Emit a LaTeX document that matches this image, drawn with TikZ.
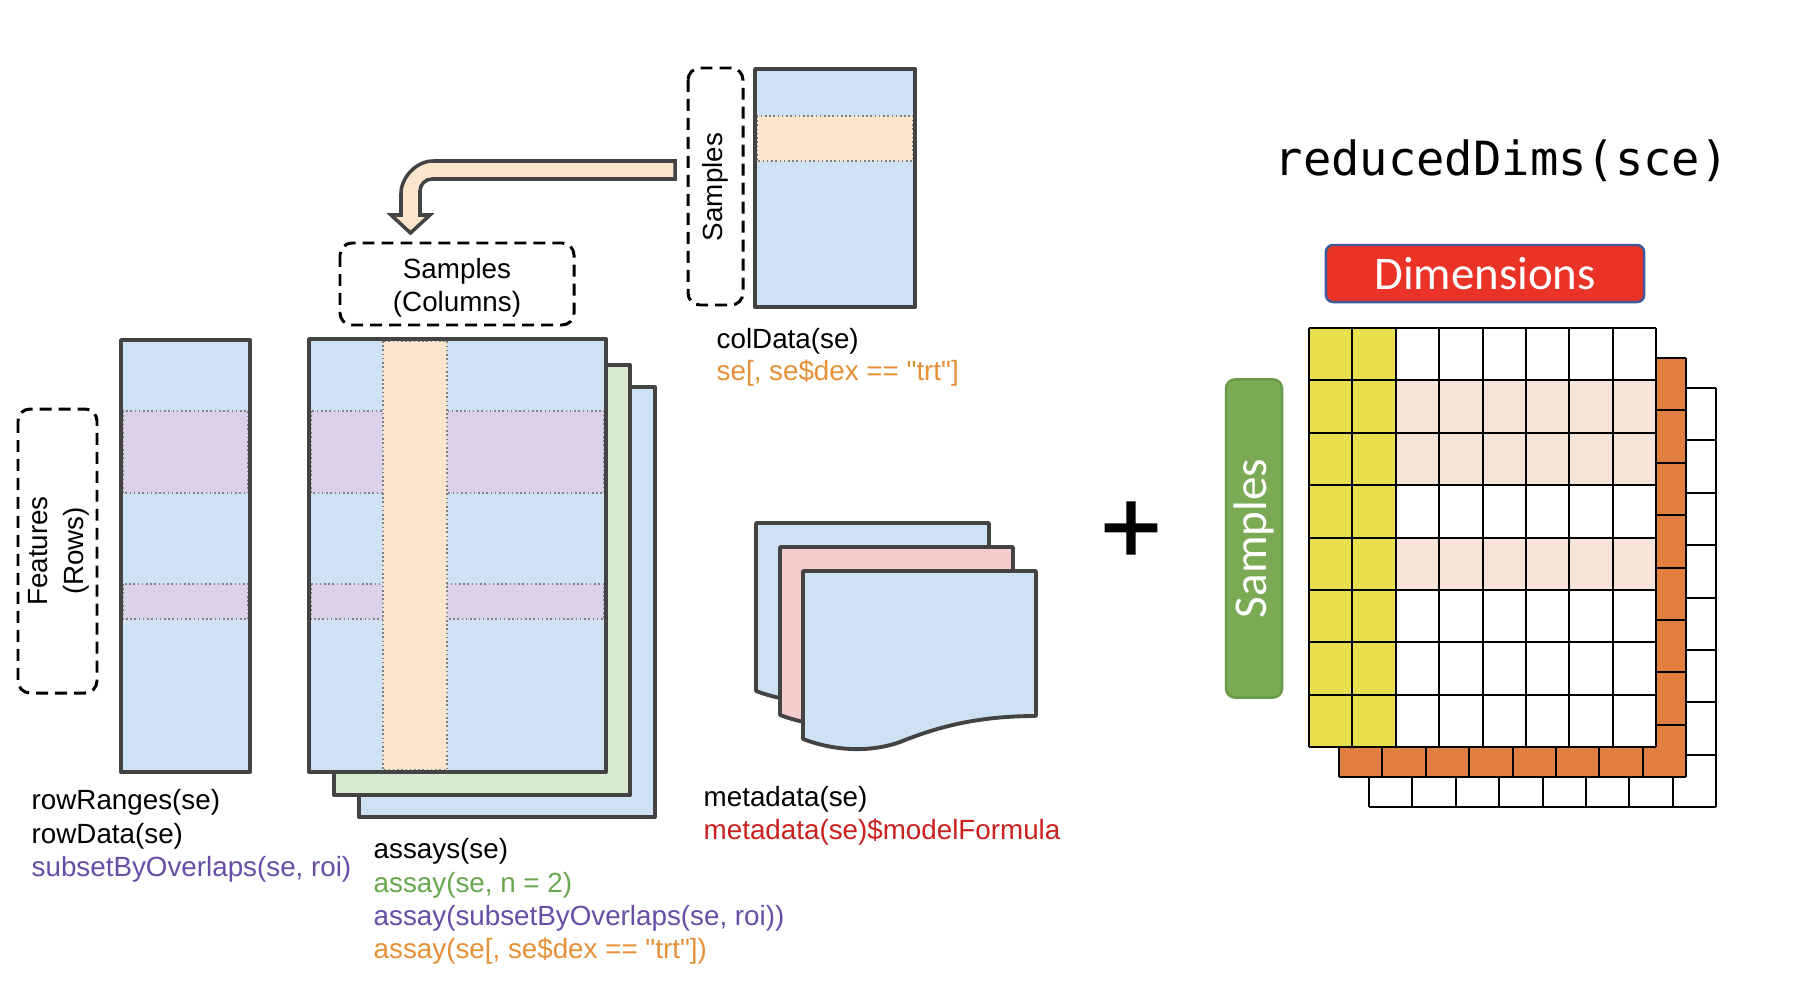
\documentclass[tikz,border=0pt]{standalone}
\usepackage{fontspec}
\setmainfont{Liberation Sans}[Ligatures=TeXOff]
\newfontfamily\calfont{Carlito}
\newfontfamily\codefont{DejaVu Sans Mono}
\newfontfamily\plusfont{Liberation Sans}[FakeBold=1.5]
\definecolor{edge}{HTML}{434343}
\definecolor{dotc}{HTML}{808080}
\definecolor{blueF}{HTML}{CFE2F3}
\definecolor{purpleF}{HTML}{D9D2E9}
\definecolor{orangeF}{HTML}{FCE5CD}
\definecolor{greenF}{HTML}{D9EAD3}
\definecolor{pinkF}{HTML}{F4CCCC}
\definecolor{txtPurple}{HTML}{674EA7}
\definecolor{txtGreen}{HTML}{6AA84F}
\definecolor{txtOrange}{HTML}{E69138}
\definecolor{txtRed}{HTML}{C9211E}
\definecolor{cellYellow}{HTML}{E8DE4E}
\definecolor{cellOrange}{HTML}{E07F40}
\definecolor{cellPeach}{HTML}{F7E4D8}
\definecolor{dimRed}{HTML}{EA3327}
\definecolor{dimBlue}{HTML}{3F5A9B}
\definecolor{sampGreen}{HTML}{7BAA55}
\definecolor{sampEdge}{HTML}{6A9A48}
\begin{document}
\begin{tikzpicture}[x=0.01cm,y=-0.01cm,
  lbl/.style={inner sep=0pt, font=\fontsize{7.9pt}{9.5pt}\selectfont, anchor=base west},
  panel/.style={draw=edge, line width=1.1pt, line join=round},
  band/.style={draw=dotc, line width=0.45pt, dash pattern=on 0.45pt off 0.75pt},
  dashbox/.style={draw=black, line width=0.85pt, dash pattern=on 3.4pt off 2pt, rounded corners=0.12cm},
  gl/.style={draw=black, line width=0.6pt},
  sheet/.style={fill=#1, draw=edge, line width=1.1pt, line join=round},
]
\fill[white] (0,0) rectangle (1800,1000);
\useasboundingbox (0,0) rectangle (1800,1000);

% ---------- rowData panel ----------
\fill[blueF] (121,340) rectangle (250,772);
\fill[purpleF] (121,411) rectangle (250,493);
\draw[band] (123,411) rectangle (248,493);
\fill[purpleF] (121,584) rectangle (250,619);
\draw[band] (123,584) rectangle (248,619);
\draw[panel] (121,340) rectangle (250,772);

\draw[dashbox] (18,409) rectangle (97,693);
\node[inner sep=0pt, font=\fontsize{7.9pt}{10.2pt}\selectfont, rotate=90, align=center] (feat) at (59,551) {Features\\(Rows)};

% ---------- assays stack ----------
\filldraw[panel, fill=blueF] (359,387) rectangle (655,817);
\filldraw[panel, fill=greenF] (334,365) rectangle (630,795);
\fill[blueF] (309,339) rectangle (606,772);
\fill[purpleF] (309,411) rectangle (606,493);
\draw[band] (311,411) rectangle (604,493);
\fill[purpleF] (309,584) rectangle (606,619);
\draw[band] (311,584) rectangle (604,619);
\fill[orangeF] (383,341) rectangle (447,770);
\draw[band] (383,341) rectangle (447,770);
\draw[panel] (309,339) rectangle (606,772);

\draw[dashbox] (340,243) rectangle (574,325);
\node[inner sep=0pt, font=\fontsize{7.9pt}{9.4pt}\selectfont, align=center] (cols) at (457,288) {Samples\\(Columns)};

% ---------- bent arrow ----------
\filldraw[fill=orangeF, draw=edge, line width=1pt, line join=miter]
  (675,161) -- (433,161) .. controls (415.3,161) and (401,178.7) .. (401,193)
  -- (401,215) -- (391,215) -- (410.5,233) -- (430,215) -- (420,215) -- (420,191)
  .. controls (420,184.4) and (425.4,179) .. (432,179) -- (675,179) -- cycle;

% ---------- colData panel ----------
\draw[dashbox] (688,68) rectangle (743,305);
\node[inner sep=0pt, font=\fontsize{7.9pt}{9.5pt}\selectfont, rotate=90] (csamp) at (715,187) {Samples};
\fill[blueF] (755,69) rectangle (915,307);
\fill[orangeF] (755,116) rectangle (915,161);
\draw[band] (757,116) rectangle (913,161);
\draw[panel] (755,69) rectangle (915,307);

% ---------- metadata sheets ----------
\def\sheetpath{(0,0) -- (233,0) -- (233,145) .. controls (172,145) and (132,157) .. (97,171)
  .. controls (72,180) and (37,182) .. (0,168) -- cycle}
\filldraw[sheet=blueF, shift={(756,523)}] \sheetpath;
\filldraw[sheet=pinkF, shift={(780,547)}] \sheetpath;
\filldraw[sheet=blueF, shift={(803,571)}] \sheetpath;

% ---------- labels ----------
\node[lbl] (rr) at (31,809) {rowRanges(se)};
\node[lbl] (rd) at (31,843) {rowData(se)};
\node[lbl, text=txtPurple] (rs) at (31,876) {subsetByOverlaps(se, roi)};

\node[lbl] (as) at (373,858) {assays(se)};
\node[lbl, text=txtGreen] (a2) at (373,892) {assay(se, n = 2)};
\node[lbl, text=txtPurple] (a3) at (373,925) {assay(subsetByOverlaps(se, roi))};
\node[lbl, text=txtOrange] (a4) at (373,958) {assay(se[, se\$dex == "trt"])};

\node[lbl] (cd) at (716,348) {colData(se)};
\node[lbl, text=txtOrange] (cs) at (716,380) {se[, se\$dex == "trt"]};

\node[lbl] (md) at (703,806) {metadata(se)};
\node[lbl, text=txtRed] (mf) at (703,839) {metadata(se)\$modelFormula};

% ---------- plus ----------
\node[inner sep=0pt, anchor=base, font=\plusfont\fontsize{30pt}{30pt}\selectfont] (plus) at (1131,563) {+};

% ---------- reducedDims ----------
\node[inner sep=0pt, anchor=base west, font=\codefont\fontsize{13.4pt}{16pt}\selectfont] (rdims) at (1274,175) {reducedDims(sce)};

\node[draw=dimBlue, fill=dimRed, rounded corners=0.07cm, line width=0.7pt,
  minimum width=3.18cm, minimum height=0.57cm, inner sep=0pt, text=white,
  font=\calfont\fontsize{13.3pt}{16pt}\selectfont] (dims) at (1485,273.5) {Dimensions};

\node[draw=sampEdge, fill=sampGreen, rounded corners=0.09cm, line width=0.7pt,
  minimum width=3.18cm, minimum height=0.56cm, inner sep=0pt, text=white, rotate=90,
  font=\calfont\fontsize{13.4pt}{16pt}\selectfont] (samp) at (1254,538.5) {Samples};

% back layer (white)
\fill[white] (1369,388) rectangle (1716.2,807.2);
\foreach \i in {0,...,8} \draw[gl] ({1369+43.4*\i},388) -- ({1369+43.4*\i},807.2);
\foreach \j in {0,...,8} \draw[gl] (1369,{388+52.4*\j}) -- (1716.2,{388+52.4*\j});
% middle layer (orange)
\fill[cellOrange] (1339,358) rectangle (1686.2,777.2);
\foreach \i in {0,...,8} \draw[gl] ({1339+43.4*\i},358) -- ({1339+43.4*\i},777.2);
\foreach \j in {0,...,8} \draw[gl] (1339,{358+52.4*\j}) -- (1686.2,{358+52.4*\j});
% front layer
\fill[white] (1309,328) rectangle (1656.2,747.2);
\fill[cellYellow] (1309,328) rectangle (1395.8,747.2);
\foreach \j in {1,2,4}
  \fill[cellPeach] (1395.8,{328+52.4*\j}) rectangle (1656.2,{328+52.4*(\j+1)});
\foreach \i in {0,...,8} \draw[gl] ({1309+43.4*\i},328) -- ({1309+43.4*\i},747.2);
\foreach \j in {0,...,8} \draw[gl] (1309,{328+52.4*\j}) -- (1656.2,{328+52.4*\j});
\end{tikzpicture}
\end{document}
